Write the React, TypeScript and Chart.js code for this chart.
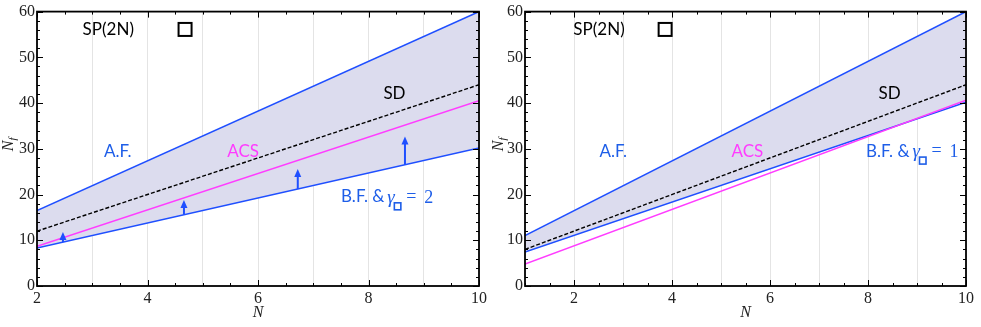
import React, { useEffect, useRef } from "react";
import { Chart, registerables } from "chart.js";
Chart.register(...registerables);

// ---- data ----
const leftN = [2, 10];
const leftAF = [16.5, 60];
const leftSD = [12, 44];
const leftACS = [8.7, 40.5];
const leftBF = [8.3, 30.2];

const rightN = [1, 10];
const rightAF = [11, 60];
const rightSD = [8, 44];
const rightACS = [4.8, 40.6];
const rightBF = [7.4, 40.2];

const arrowN = [2.47, 4.66, 6.72, 8.66];
const arrowFrom = [9.6, 15.6, 21.2, 26.5];
const arrowTo = [11.8, 18.8, 25.6, 32.7];

const yTickValues = [0, 10, 20, 30, 40, 50, 60];

const BLUE = "#1f4fff";
const LABEL_BLUE = "#1e5ee8";
const MAGENTA = "#ff3cff";
const FILL = "#dcdcee";
const SANS = "Lato, 'Open Sans', sans-serif";
const SERIF = "'Liberation Serif', 'DejaVu Serif', serif";

type Panel = {
  n: number[];
  af: number[];
  sd: number[];
  acs: number[];
  bf: number[];
  xmin: number;
  gamma: string;
  yAxisW: number;
  padRight: number;
  spX: number;
  boxX: number;
  afX: number;
  acsX: number;
  sdX: number;
  bfX: number;
  bfY: number;
  arrows: boolean;
};

const leftPanel: Panel = {
  n: leftN, af: leftAF, sd: leftSD, acs: leftACS, bf: leftBF,
  xmin: 2, gamma: "2", yAxisW: 37, padRight: 11,
  spX: 3.29, boxX: 4.68, afX: 3.46, acsX: 5.73, sdX: 8.47, bfX: 7.5, bfY: 19.5,
  arrows: true,
};
const rightPanel: Panel = {
  n: rightN, af: rightAF, sd: rightSD, acs: rightACS, bf: rightBF,
  xmin: 1, gamma: "1", yAxisW: 35, padRight: 15,
  spX: 2.51, boxX: 3.86, afX: 2.8, acsX: 5.54, sdX: 8.44, bfX: 7.96, bfY: 29.5,
  arrows: false,
};

function pts(xs: number[], ys: number[]) {
  return xs.map((x, i) => ({ x, y: ys[i] }));
}

function makeDecor(p: Panel) {
  return {
    id: "decor",
    afterDatasetsDraw(chart: any) {
      const ctx = chart.ctx as CanvasRenderingContext2D;
      const xs = chart.scales.x;
      const ys = chart.scales.y;
      const a = chart.chartArea;
      ctx.save();

      // arrows
      if (p.arrows) {
        ctx.strokeStyle = BLUE;
        ctx.fillStyle = BLUE;
        ctx.lineWidth = 2;
        arrowN.forEach((n, i) => {
          const px = xs.getPixelForValue(n);
          const y0 = ys.getPixelForValue(arrowFrom[i]);
          const y1 = ys.getPixelForValue(arrowTo[i]);
          ctx.beginPath();
          ctx.moveTo(px, y0);
          ctx.lineTo(px, y1 + 6);
          ctx.stroke();
          ctx.beginPath();
          ctx.moveTo(px, y1);
          ctx.lineTo(px - 3.5, y1 + 8);
          ctx.lineTo(px + 3.5, y1 + 8);
          ctx.closePath();
          ctx.fill();
        });
      }

      // frame
      ctx.strokeStyle = "#000";
      ctx.lineWidth = 1.8;
      ctx.strokeRect(a.left, a.top, a.right - a.left, a.bottom - a.top);

      // inward ticks
      ctx.lineWidth = 1;
      for (let v = p.xmin; v <= 10.001; v += 0.5) {
        const major = Math.abs(v % 2) < 1e-6;
        const len = major ? 6 : 3;
        const px = Math.round(xs.getPixelForValue(v)) + 0.5;
        ctx.beginPath();
        ctx.moveTo(px, a.bottom);
        ctx.lineTo(px, a.bottom - len);
        ctx.moveTo(px, a.top);
        ctx.lineTo(px, a.top + len);
        ctx.stroke();
      }
      for (let v = 0; v <= 60.001; v += 2) {
        const major = v % 10 === 0;
        const len = major ? 6 : 3;
        const py = Math.round(ys.getPixelForValue(v)) + 0.5;
        ctx.beginPath();
        ctx.moveTo(a.left, py);
        ctx.lineTo(a.left + len, py);
        ctx.moveTo(a.right, py);
        ctx.lineTo(a.right - len, py);
        ctx.stroke();
      }

      // axis titles
      ctx.fillStyle = "#222";
      ctx.textAlign = "center";
      ctx.textBaseline = "middle";
      ctx.font = `italic 16px ${SERIF}`;
      ctx.fillText("N", (a.left + a.right) / 2, a.bottom + 27);
      ctx.save();
      ctx.translate(9, 144);
      ctx.rotate(-Math.PI / 2);
      ctx.font = `italic 16px ${SERIF}`;
      ctx.textAlign = "center";
      ctx.fillText("N", -2, 0);
      ctx.font = `italic 11px ${SERIF}`;
      ctx.fillText("f", 5, 4);
      ctx.restore();

      // annotations
      const txt = (s: string, x: number, y: number, color: string) => {
        ctx.fillStyle = color;
        ctx.font = `17px ${SANS}`;
        ctx.textAlign = "center";
        ctx.textBaseline = "middle";
        ctx.fillText(s, xs.getPixelForValue(x), ys.getPixelForValue(y));
      };
      txt("SP(2N)", p.spX, 56.1, "#000");
      // Young-tableau box
      const bx = xs.getPixelForValue(p.boxX);
      const by = ys.getPixelForValue(56.1);
      ctx.strokeStyle = "#000";
      ctx.lineWidth = 2;
      ctx.strokeRect(bx - 6.5, by - 6.5, 13, 13);

      txt("A.F.", p.afX, 29.5, LABEL_BLUE);
      txt("ACS", p.acsX, 29.5, MAGENTA);
      txt("SD", p.sdX, 42, "#000");

      // B.F. & γ□ = n
      let cx = xs.getPixelForValue(p.bfX);
      const cy = ys.getPixelForValue(p.bfY);
      ctx.fillStyle = LABEL_BLUE;
      ctx.textAlign = "left";
      ctx.textBaseline = "middle";
      ctx.font = `17px ${SANS}`;
      ctx.fillText("B.F. &", cx, cy);
      const g0 = cx + ctx.measureText("B.F. &").width + 3;
      ctx.font = `italic 19px ${SERIF}`;
      ctx.fillText("γ", g0, cy + 1);
      ctx.strokeStyle = LABEL_BLUE;
      ctx.lineWidth = 1.6;
      ctx.strokeRect(g0 + 7, cy + 6, 6.5, 7);
      ctx.font = `18px ${SERIF}`;
      ctx.fillText("=", g0 + 19, cy);
      ctx.fillText(p.gamma, g0 + 37, cy + 1);

      ctx.restore();
    },
  };
}

function PanelChart({ p, left, width }: { p: Panel; left: number; width: number }) {
  const ref = useRef<HTMLCanvasElement | null>(null);
  useEffect(() => {
    if (!ref.current) return;
    const line = (ys: number[], color: string, extra: any = {}) => ({
      data: pts(p.n, ys),
      borderColor: color,
      borderWidth: 1.5,
      pointRadius: 0,
      fill: false,
      ...extra,
    });
    const chart = new Chart(ref.current, {
      type: "line",
      data: {
        datasets: [
          line(p.af, BLUE, { fill: "+3", backgroundColor: FILL }),
          line(p.sd, "#000", { borderDash: [4, 2], borderWidth: 1.4 }),
          line(p.acs, MAGENTA),
          line(p.bf, BLUE),
        ],
      },
      options: {
        animation: false,
        responsive: false,
        devicePixelRatio: 1,
        layout: { padding: { top: 9, right: p.padRight, left: 0, bottom: 0 } },
        plugins: {
          legend: { display: false },
          tooltip: { enabled: false },
          filler: { drawTime: "beforeDatasetsDraw" },
        } as any,
        scales: {
          x: {
            type: "linear",
            min: p.xmin,
            max: 10,
            ticks: {
              stepSize: 1,
              autoSkip: false,
              maxRotation: 0,
              padding: 3,
              color: "#222",
              font: { family: SERIF, size: 16 },
              callback: (v: any) => (Number(v) % 2 === 0 ? String(v) : ""),
            },
            grid: { color: "#e4e4e4", lineWidth: 1, drawTicks: false },
            border: { display: false },
            afterFit: (s: any) => {
              s.height = 41;
            },
          },
          y: {
            type: "linear",
            min: 0,
            max: 60,
            afterBuildTicks: (s: any) => {
              s.ticks = yTickValues.map((v) => ({ value: v }));
            },
            ticks: {
              padding: 2,
              color: "#222",
              font: { family: SERIF, size: 16 },
            },
            grid: { display: false, drawTicks: false },
            border: { display: false },
            afterFit: (s: any) => {
              s.width = p.yAxisW;
            },
          },
        },
      } as any,
      plugins: [makeDecor(p)],
    });
    return () => chart.destroy();
  }, [p]);
  return (
    <canvas
      ref={ref}
      width={width}
      height={327}
      style={{ position: "absolute", left, top: 0, width, height: 327 }}
    />
  );
}

export default function App() {
  return (
    <div style={{ position: "fixed", left: 0, top: 0, width: 981, height: 327, background: "#fff" }}>
      <PanelChart p={leftPanel} left={0} width={490} />
      <PanelChart p={rightPanel} left={490} width={491} />
    </div>
  );
}
